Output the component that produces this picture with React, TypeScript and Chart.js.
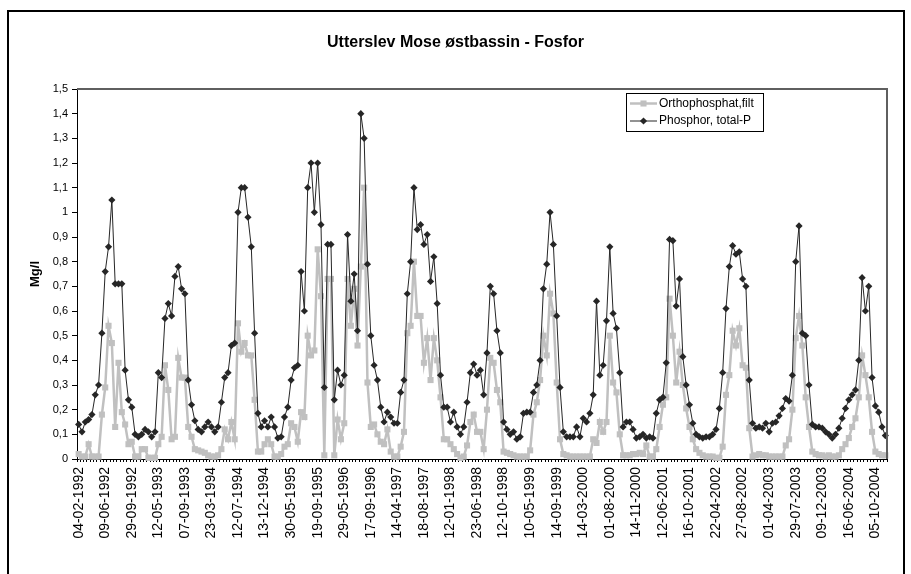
import React, { useEffect, useRef } from "react";
import { Chart, registerables } from "chart.js";

Chart.register(...registerables);

const FONT = "'Liberation Sans', Arial, Helvetica, sans-serif";

const chartTitle = "Utterslev Mose østbassin - Fosfor";
const yTitle = "Mg/l";
const seriesNames = ["Orthophosphat,filt", "Phosphor, total-P"];

const tickDates = [
  "04-02-1992", "09-06-1992", "29-09-1992", "12-05-1993", "07-09-1993",
  "23-03-1994", "12-07-1994", "13-12-1994", "30-05-1995", "19-09-1995",
  "29-05-1996", "17-09-1996", "14-04-1997", "18-08-1997", "12-01-1998",
  "23-06-1998", "12-10-1998", "10-05-1999", "14-09-1999", "14-03-2000",
  "01-08-2000", "14-11-2000", "12-06-2001", "16-10-2001", "22-04-2002",
  "27-08-2002", "01-04-2003", "29-07-2003", "09-12-2003", "16-06-2004",
  "05-10-2004",
];
const LABEL_STEP = 8;

const totalP = [
  0.14, 0.11, 0.15, 0.16, 0.18, 0.26, 0.30, 0.51, 0.76, 0.86, 1.05, 0.71, 0.71, 0.71, 0.36, 0.24, 0.21,
  0.10, 0.09, 0.10, 0.12, 0.11, 0.09, 0.11, 0.35, 0.33, 0.57, 0.63, 0.58, 0.74, 0.78, 0.69, 0.67,
  0.32, 0.22, 0.155, 0.12, 0.11, 0.13, 0.15, 0.13, 0.11, 0.13, 0.23, 0.33, 0.35, 0.46, 0.47, 1.00, 1.10,
  1.10, 0.98, 0.86, 0.51, 0.185,
  0.13, 0.155, 0.13, 0.17, 0.13, 0.085, 0.09, 0.17,
  0.21, 0.32, 0.37, 0.38, 0.76, 0.60, 1.10, 1.20, 1.00, 1.20, 0.95, 0.29, 0.87, 0.87,
  0.24, 0.36, 0.30, 0.34, 0.91, 0.64, 0.75, 0.52,
  1.40, 1.30, 0.79, 0.50, 0.38, 0.32, 0.21, 0.15, 0.19, 0.17, 0.145, 0.145, 0.27, 0.32, 0.67, 0.80, 1.10,
  0.93, 0.95, 0.87, 0.91, 0.72, 0.82, 0.63, 0.34, 0.21, 0.21,
  0.15, 0.19, 0.13, 0.10, 0.13,
  0.23, 0.35, 0.385, 0.34, 0.36, 0.26, 0.43, 0.70, 0.67, 0.52, 0.43, 0.15, 0.12, 0.10, 0.11, 0.08, 0.09,
  0.185, 0.19, 0.19, 0.27, 0.30, 0.40, 0.69, 0.79, 1.00, 0.87, 0.58, 0.29, 0.11, 0.09, 0.09, 0.09, 0.13,
  0.09, 0.165, 0.15, 0.185,
  0.26, 0.64, 0.34, 0.38, 0.56, 0.86, 0.59, 0.53, 0.35,
  0.13, 0.15, 0.15, 0.12, 0.085, 0.09, 0.10, 0.085, 0.09, 0.085,
  0.185, 0.24, 0.25, 0.39, 0.89, 0.885, 0.62, 0.73, 0.415, 0.30, 0.22, 0.145,
  0.10, 0.09, 0.085, 0.09, 0.09, 0.10, 0.12,
  0.205, 0.35, 0.61, 0.78, 0.865, 0.83, 0.84, 0.73, 0.70, 0.32,
  0.145, 0.125, 0.13, 0.125, 0.145, 0.11, 0.145, 0.15, 0.175, 0.205,
  0.245, 0.235, 0.34, 0.80, 0.945, 0.51, 0.50, 0.30, 0.14, 0.13,
  0.13, 0.125, 0.11, 0.10, 0.085, 0.10, 0.125, 0.165, 0.205, 0.24,
  0.26, 0.28, 0.40, 0.735, 0.60, 0.70, 0.33, 0.215, 0.19, 0.13, 0.095,
];

const orthoP = [
  0.02, 0.01, 0.01, 0.06, 0.01, 0.01, 0.01, 0.18, 0.29, 0.54, 0.47, 0.13, 0.39, 0.19, 0.14, 0.06, 0.07,
  0.01, 0.01, 0.04, 0.04, 0.005, 0.005, 0.005, 0.06, 0.09, 0.38, 0.28, 0.08, 0.09, 0.41, 0.33, 0.33,
  0.13, 0.09, 0.04, 0.035, 0.03, 0.025, 0.015, 0.01, 0.01, 0.015, 0.04, 0.12, 0.08, 0.15, 0.08, 0.55, 0.435,
  0.47, 0.42, 0.42, 0.24, 0.03,
  0.03, 0.06, 0.08, 0.06, 0.01, 0.01, 0.02, 0.05,
  0.06, 0.145, 0.13, 0.07, 0.19, 0.17, 0.50, 0.42, 0.44, 0.85, 0.66, 0.015, 0.73, 0.73,
  0.015, 0.16, 0.08, 0.145, 0.73, 0.54, 0.69, 0.46,
  0.78, 1.10, 0.31, 0.13, 0.14, 0.10, 0.07, 0.06, 0.12, 0.03, 0.01, 0.01, 0.05, 0.11, 0.51, 0.54, 0.80,
  0.58, 0.58, 0.39, 0.49, 0.32, 0.49, 0.40, 0.25, 0.08, 0.08,
  0.06, 0.04, 0.02, 0.005, 0.01,
  0.055, 0.15, 0.18, 0.11, 0.11, 0.04, 0.20, 0.41, 0.39, 0.28, 0.23, 0.03, 0.025, 0.02, 0.015, 0.01, 0.01,
  0.01, 0.01, 0.035, 0.18, 0.23, 0.32, 0.50, 0.42, 0.67, 0.59, 0.31, 0.08, 0.02, 0.015, 0.01, 0.01, 0.01,
  0.01, 0.01, 0.01, 0.01,
  0.08, 0.065, 0.15, 0.11, 0.15, 0.50, 0.31, 0.27, 0.10,
  0.015, 0.015, 0.015, 0.02, 0.02, 0.025, 0.02, 0.055, 0.01, 0.01,
  0.04, 0.13, 0.22, 0.25, 0.65, 0.50, 0.31, 0.435, 0.30, 0.205, 0.13, 0.08,
  0.04, 0.025, 0.015, 0.01, 0.01, 0.01, 0.005,
  0.005, 0.05, 0.26, 0.34, 0.52, 0.46, 0.53, 0.38, 0.37, 0.125,
  0.01, 0.015, 0.02, 0.015, 0.015, 0.01, 0.01, 0.01, 0.01, 0.01,
  0.055, 0.08, 0.20, 0.49, 0.58, 0.46, 0.25, 0.13, 0.03, 0.02,
  0.015, 0.015, 0.01, 0.015, 0.01, 0.01, 0.015, 0.04, 0.06, 0.085,
  0.13, 0.165, 0.25, 0.42, 0.34, 0.25, 0.11, 0.03, 0.02, 0.015, 0.015,
];

const categories = totalP.map((_, i) =>
  i % LABEL_STEP === 0 && tickDates[i / LABEL_STEP] ? tickDates[i / LABEL_STEP] : ""
);

const GRAY = "#c0c0c0";
const DARK = "#262626";

const decorPlugin = {
  id: "decor",
  beforeDraw(chart: any) {
    const ctx = chart.ctx;
    ctx.save();
    ctx.fillStyle = "#ffffff";
    ctx.fillRect(0, 0, chart.width, chart.height);
    ctx.restore();
  },
  afterDraw(chart: any) {
    const ctx = chart.ctx;
    const a = chart.chartArea;
    ctx.save();
    // plot area border (top/right)
    ctx.strokeStyle = "#5f5f5f";
    ctx.lineWidth = 2;
    ctx.beginPath();
    ctx.moveTo(a.left, a.top);
    ctx.lineTo(a.right, a.top);
    ctx.lineTo(a.right, a.bottom);
    ctx.stroke();

    // outer frame
    ctx.strokeStyle = "#000";
    ctx.lineWidth = 2;
    ctx.strokeRect(8, 11, 896, 620);

    // title
    ctx.fillStyle = "#000";
    ctx.font = "bold 16px " + FONT;
    ctx.textAlign = "center";
    ctx.textBaseline = "middle";
    ctx.fillText(chartTitle, 455.5, 43);

    // y title
    ctx.save();
    ctx.translate(35, 274);
    ctx.rotate(-Math.PI / 2);
    ctx.font = "bold 13px " + FONT;
    ctx.fillText(yTitle, 0, 0);
    ctx.restore();

    // legend
    const lx = 626.5, ly = 93.5, lw = 137, lh = 38;
    ctx.fillStyle = "#fff";
    ctx.fillRect(lx, ly, lw, lh);
    ctx.strokeStyle = "#000";
    ctx.lineWidth = 1;
    ctx.strokeRect(lx, ly, lw, lh);
    const ds = chart.data.datasets;
    const rows = [103.5, 121];
    ds.forEach((d: any, k: number) => {
      const y = rows[k];
      ctx.strokeStyle = d.borderColor;
      ctx.lineWidth = d.borderWidth;
      ctx.beginPath();
      ctx.moveTo(630, y);
      ctx.lineTo(657, y);
      ctx.stroke();
      ctx.fillStyle = d.backgroundColor;
      ctx.beginPath();
      if (d.pointStyle === "rect") {
        const s = d.pointRadius * Math.SQRT1_2;
        ctx.rect(643.5 - s, y - s, 2 * s, 2 * s);
      } else {
        const r = d.pointRadius;
        ctx.moveTo(643.5, y - r);
        ctx.lineTo(643.5 + r, y);
        ctx.lineTo(643.5, y + r);
        ctx.lineTo(643.5 - r, y);
        ctx.closePath();
      }
      ctx.fill();
      ctx.fillStyle = "#000";
      ctx.font = "12px " + FONT;
      ctx.textAlign = "left";
      ctx.textBaseline = "middle";
      ctx.fillText(d.label, 659, y);
    });
    ctx.restore();
  },
};

export default function App() {
  const ref = useRef<HTMLCanvasElement | null>(null);

  useEffect(() => {
    if (!ref.current) return;
    const chart = new Chart(ref.current, {
      type: "line",
      data: {
        labels: categories,
        datasets: [
          {
            label: seriesNames[0],
            data: orthoP,
            borderColor: GRAY,
            backgroundColor: GRAY,
            borderWidth: 2.5,
            pointStyle: "rect",
            pointRadius: 4.3,
            pointBorderWidth: 0,
            pointHoverRadius: 4.3,
            tension: 0,
            clip: false as any,
            order: 2,
          },
          {
            label: seriesNames[1],
            data: totalP,
            borderColor: DARK,
            backgroundColor: DARK,
            borderWidth: 1,
            pointStyle: "rectRot",
            pointRadius: 3.6,
            pointBorderWidth: 0,
            pointHoverRadius: 3.6,
            tension: 0,
            clip: false as any,
            order: 1,
          },
        ],
      },
      options: {
        responsive: false,
        animation: false,
        devicePixelRatio: 1,
        layout: { padding: { top: 89, right: 24, left: 0, bottom: 0 } },
        plugins: {
          legend: { display: false },
          title: { display: false },
          tooltip: { enabled: false },
        },
        events: [],
        scales: {
          x: {
            type: "category",
            offset: true,
            grid: {
              offset: true,
              drawOnChartArea: false,
              drawTicks: true,
              tickLength: 3,
              color: "#000",
              lineWidth: 1,
            },
            border: { display: true, color: "#000", width: 1 },
            ticks: {
              autoSkip: false,
              maxRotation: 90,
              minRotation: 90,
              padding: 5,
              color: "#000",
              font: { family: FONT, size: 14 },
            },
            afterFit: (s: any) => {
              s.height = 115;
            },
          },
          y: {
            min: 0,
            max: 1.5,
            ticks: {
              stepSize: 0.1,
              padding: 4,
              color: "#000",
              font: { family: FONT, size: 11 },
              callback: (v: any) => String(Math.round(Number(v) * 10) / 10).replace(".", ","),
            },
            grid: {
              drawOnChartArea: false,
              drawTicks: true,
              tickLength: 5,
              color: "#000",
            },
            border: { display: true, color: "#000", width: 1 },
            afterFit: (s: any) => {
              s.width = 77;
            },
          },
        },
      },
      plugins: [decorPlugin],
    });
    return () => chart.destroy();
  }, []);

  return (
    <div style={{ position: "fixed", left: 0, top: 0, width: 911, height: 574, background: "#fff" }}>
      <canvas ref={ref} width={911} height={574} style={{ width: 911, height: 574, display: "block" }} />
    </div>
  );
}
